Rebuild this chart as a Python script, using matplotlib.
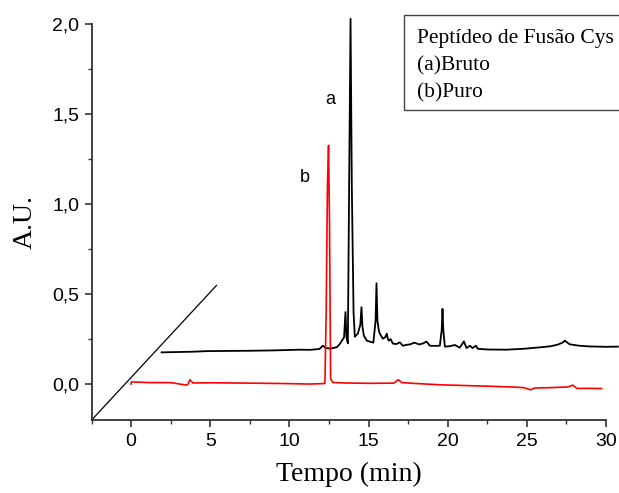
import matplotlib
matplotlib.use("Agg")
import matplotlib.pyplot as plt
from matplotlib.patches import Rectangle
from matplotlib.ticker import MultipleLocator, FuncFormatter

# --- DATA ---
# (a) crude peptide, black trace
bruto_t = [1.92, 3.0, 4.0, 4.76, 6.0, 7.5, 9.0, 10.66, 11.3, 11.9, 12.11, 12.3, 12.6, 13.0,
           13.2, 13.45, 13.54, 13.6, 13.69, 13.78, 13.86, 13.94, 14.05, 14.13, 14.32, 14.48,
           14.55, 14.61, 14.7, 14.89, 15.1, 15.3, 15.44, 15.5, 15.56, 15.65, 15.71, 15.9,
           16.05, 16.15, 16.22, 16.28, 16.39, 16.53, 16.75, 16.97, 17.16, 17.4, 17.6, 17.9,
           18.2, 18.45, 18.66, 18.87, 19.2, 19.5, 19.62, 19.67, 19.72, 19.82, 20.1, 20.45,
           20.76, 21.02, 21.19, 21.4, 21.57, 21.78, 21.9, 22.5, 23.71, 24.8, 25.82, 26.5,
           26.95, 27.25, 27.4, 27.7, 28.3, 28.97, 30.0, 30.75]
bruto_au = [0.176, 0.178, 0.18, 0.183, 0.184, 0.185, 0.187, 0.191, 0.19, 0.195, 0.213, 0.2,
            0.197, 0.205, 0.225, 0.26, 0.40, 0.26, 0.226, 1.2, 2.03, 1.1, 0.4, 0.263, 0.28,
            0.33, 0.427, 0.32, 0.269, 0.241, 0.235, 0.23, 0.35, 0.56, 0.35, 0.297, 0.28,
            0.252, 0.26, 0.28, 0.25, 0.241, 0.25, 0.225, 0.222, 0.232, 0.213, 0.218, 0.22,
            0.23, 0.22, 0.226, 0.236, 0.213, 0.212, 0.213, 0.3, 0.418, 0.3, 0.208, 0.21,
            0.217, 0.202, 0.237, 0.2, 0.213, 0.2, 0.213, 0.196, 0.192, 0.191, 0.196, 0.204,
            0.21, 0.219, 0.23, 0.241, 0.221, 0.213, 0.209, 0.207, 0.208]

# (b) purified peptide, red trace
puro_t = [0.0, 0.01, 1.18, 2.5, 3.5, 3.6, 3.71, 3.9, 5.0, 7.5, 9.5, 11.29, 12.24, 12.32,
          12.4, 12.47, 12.53, 12.6, 12.74, 13.5, 15.0, 16.6, 16.87, 17.1, 18.0, 19.5, 21.0,
          22.5, 24.0, 24.8, 25.23, 25.5, 26.5, 27.6, 27.9, 28.15, 29.0, 29.72]
puro_au = [0.0, 0.012, 0.008, 0.008, -0.006, 0.0, 0.024, 0.006, 0.007, 0.005, 0.003, 0.0,
           0.003, 0.4, 1.1, 1.326, 0.9, 0.03, 0.009, 0.006, 0.004, 0.005, 0.024, 0.008,
           0.003, -0.004, -0.008, -0.012, -0.016, -0.02, -0.032, -0.022, -0.02, -0.016,
           -0.006, -0.024, -0.024, -0.025]

# offset guide line (3D stacking axis)
guide_t = [-2.5, 5.39]
guide_au = [-0.2, 0.548]

legend_lines = ["Peptídeo de Fusão Cys", "(a)Bruto", "(b)Puro"]

# --- FIGURE ---
fig = plt.figure(figsize=(6.19, 4.93), dpi=100)
ax = fig.add_axes([0.148, 0.148, 0.831, 0.803])

ax.plot(guide_t, guide_au, color='black', lw=0.9, clip_on=False)
ax.plot(bruto_t, bruto_au, color='black', lw=1.3, clip_on=False, zorder=3)
ax.plot(puro_t, puro_au, color='red', lw=1.2, clip_on=False, zorder=3)

ax.text(12.6, 1.58, "a", fontsize=13, family='Liberation Sans', ha='center', va='center')
ax.text(10.97, 1.15, "b", fontsize=13, family='Liberation Sans', ha='center', va='center')

ax.set_xlim(-2.5, 30)
ax.set_ylim(-0.2, 2.0)
ax.xaxis.set_major_locator(MultipleLocator(5))
ax.xaxis.set_minor_locator(MultipleLocator(2.5))
ax.yaxis.set_major_locator(MultipleLocator(0.5))
ax.yaxis.set_minor_locator(MultipleLocator(0.25))
ax.yaxis.set_major_formatter(FuncFormatter(lambda v, p: f"{v:.1f}".replace('.', ',')))

for s in ['top', 'right']:
    ax.spines[s].set_visible(False)
for s in ['left', 'bottom']:
    ax.spines[s].set_linewidth(1.3)
    ax.spines[s].set_color('#333333')

ax.tick_params(which='major', direction='out', length=5, width=1.2, color='#333333',
               labelsize=14, pad=4)
ax.tick_params(which='minor', direction='out', length=3, width=1.0, color='#333333')
for lbl in ax.get_xticklabels() + ax.get_yticklabels():
    lbl.set_family('Liberation Sans')

ax.set_xlabel("Tempo (min)", family='Liberation Serif', fontsize=20, labelpad=9)
ax.set_ylabel("A.U.", family='Liberation Serif', fontsize=20, labelpad=10)

# legend box, runs past the right edge of the figure
fig.patches.append(Rectangle((0.653, 0.777), 0.4, 0.193, transform=fig.transFigure,
                             fill=False, edgecolor='#444444', lw=1.0))
for i, txt in enumerate(legend_lines):
    fig.text(0.673, 0.9128 - i * 0.0548, txt, family='Liberation Serif', fontsize=15.5,
             va='baseline', ha='left')

fig.savefig("out.png", dpi=100)
